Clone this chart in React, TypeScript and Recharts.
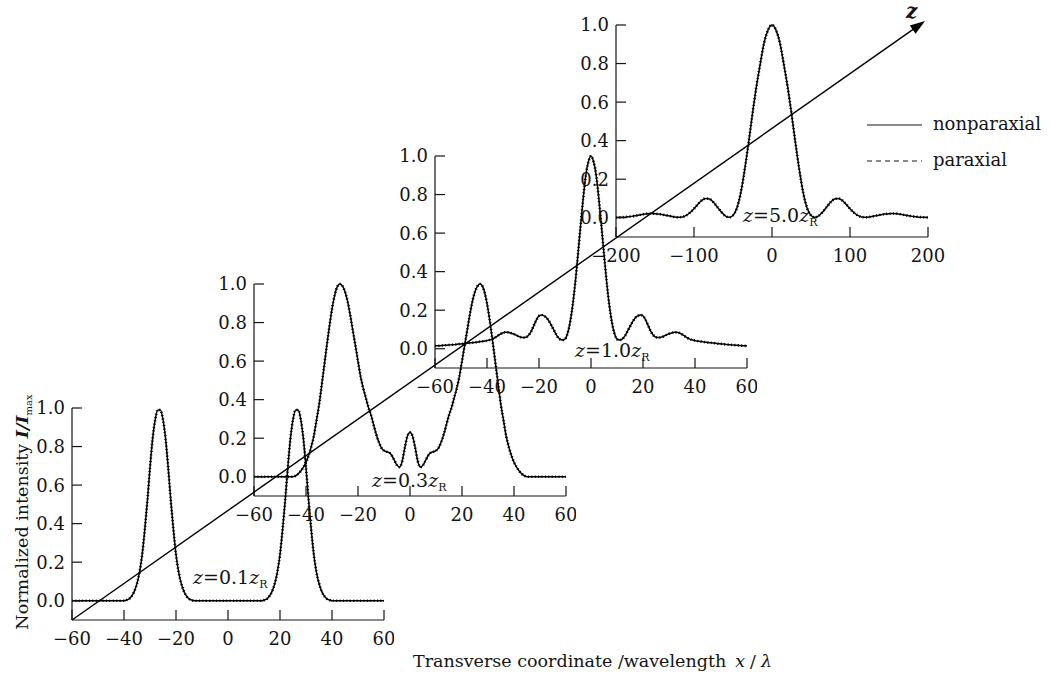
import { LineChart, Line, XAxis, YAxis, Legend } from 'recharts';

const FONT = '"DejaVu Serif", "Liberation Serif", serif';
const INK = '#141414';

// x grids (transverse coordinate / wavelength)
const GRID_60 = Array.from({ length: 121 }, (_, i) => i - 60);
const GRID_200 = Array.from({ length: 81 }, (_, i) => -200 + 5 * i);

const X_TICKS_60 = [-60, -40, -20, 0, 20, 40, 60];
const X_TICKS_200 = [-200, -100, 0, 100, 200];
const Y_TICKS = [0, 0.2, 0.4, 0.6, 0.8, 1.0];
const Z_LABELS = ['0.1', '0.3', '1.0', '5.0'];

// z = 0.1 zR
const I_01 = [
  0, 0, 0, 0, 0, 0, 0, 0, 0, 0, 0, 0, 0, 0, 0, 0, 0, 0, 0, 0, 0,
  0.004, 0.01, 0.025, 0.05, 0.09, 0.15, 0.24, 0.37, 0.52, 0.69, 0.84, 0.94, 0.99,
  0.99, 0.94, 0.84, 0.69, 0.52, 0.37, 0.24, 0.15, 0.09, 0.05, 0.025, 0.01, 0.004,
  0, 0, 0, 0, 0, 0, 0, 0, 0, 0, 0, 0, 0, 0, 0, 0, 0, 0, 0, 0, 0, 0, 0, 0, 0, 0, 0,
  0.004, 0.01, 0.025, 0.05, 0.09, 0.15, 0.24, 0.37, 0.52, 0.69, 0.84, 0.94, 0.99,
  0.99, 0.94, 0.84, 0.69, 0.52, 0.37, 0.24, 0.15, 0.09, 0.05, 0.025, 0.01, 0.004,
  0, 0, 0, 0, 0, 0, 0, 0, 0, 0, 0, 0, 0, 0, 0, 0, 0, 0, 0, 0, 0,
];

// z = 0.3 zR
const I_03 = [
  0, 0, 0, 0, 0, 0, 0, 0, 0, 0, 0, 0, 0, 0, 0, 0,
  0.005, 0.015, 0.03, 0.05, 0.075, 0.11, 0.155, 0.21, 0.29, 0.37, 0.47, 0.575, 0.68, 0.78, 0.87, 0.94, 0.985, 1.0,
  0.99, 0.96, 0.91, 0.84, 0.76, 0.68, 0.6, 0.52, 0.46, 0.41, 0.36, 0.32, 0.27, 0.22, 0.18, 0.15, 0.135, 0.13,
  0.125, 0.11, 0.085, 0.06, 0.05, 0.08, 0.15, 0.21, 0.23,
  0.21, 0.15, 0.08, 0.05, 0.06, 0.085, 0.11, 0.125, 0.13, 0.135, 0.15, 0.18, 0.22, 0.27,
  0.32, 0.36, 0.41, 0.46, 0.52, 0.6, 0.68, 0.76, 0.84, 0.91, 0.96, 0.99, 1.0,
  0.985, 0.94, 0.87, 0.78, 0.68, 0.575, 0.47, 0.37, 0.29, 0.21, 0.155, 0.11, 0.075, 0.05, 0.03, 0.015, 0.005,
  0, 0, 0, 0, 0, 0, 0, 0, 0, 0, 0, 0, 0, 0, 0, 0,
];

// z = 1.0 zR
const I_10 = [
  0.015, 0.015, 0.016, 0.017, 0.018, 0.019, 0.02, 0.021, 0.022, 0.024,
  0.025, 0.026, 0.028, 0.03, 0.031, 0.032, 0.034, 0.036, 0.038, 0.04,
  0.042, 0.045, 0.05, 0.057, 0.066, 0.075, 0.082, 0.085, 0.085, 0.082,
  0.078, 0.072, 0.065, 0.06, 0.058, 0.06, 0.07, 0.09, 0.12, 0.15,
  0.17, 0.175, 0.17, 0.16, 0.14, 0.115, 0.09, 0.065, 0.05, 0.045,
  0.05, 0.08, 0.14, 0.23, 0.35, 0.49, 0.64, 0.78, 0.9, 0.97,
  1.0,
  0.97, 0.9, 0.78, 0.64, 0.49, 0.35, 0.23, 0.14, 0.08, 0.05,
  0.045, 0.05, 0.065, 0.09, 0.115, 0.14, 0.16, 0.17, 0.175, 0.17,
  0.15, 0.12, 0.09, 0.07, 0.06, 0.058, 0.06, 0.065, 0.072, 0.078,
  0.082, 0.085, 0.085, 0.082, 0.075, 0.066, 0.057, 0.05, 0.045, 0.042,
  0.04, 0.038, 0.036, 0.034, 0.032, 0.031, 0.03, 0.028, 0.026, 0.025,
  0.024, 0.022, 0.021, 0.02, 0.019, 0.018, 0.017, 0.016, 0.015, 0.015,
];

// z = 5.0 zR
const I_50 = [
  0.001, 0.002, 0.003, 0.005, 0.007, 0.01, 0.014, 0.018, 0.021, 0.022,
  0.021, 0.019, 0.016, 0.012, 0.008, 0.004, 0.002, 0.004, 0.012, 0.027,
  0.047, 0.07, 0.09, 0.1, 0.097, 0.08, 0.055, 0.03, 0.01, 0.002,
  0.012, 0.05, 0.13, 0.25, 0.39, 0.54, 0.68, 0.8, 0.91, 0.975,
  1.0,
  0.975, 0.91, 0.8, 0.68, 0.54, 0.39, 0.25, 0.13, 0.05, 0.012,
  0.002, 0.01, 0.03, 0.055, 0.08, 0.097, 0.1, 0.09, 0.07, 0.047,
  0.027, 0.012, 0.004, 0.002, 0.004, 0.008, 0.012, 0.016, 0.019, 0.021,
  0.022, 0.021, 0.018, 0.014, 0.01, 0.007, 0.005, 0.003, 0.002, 0.001,
];

const toRows = (xs: number[], ys: number[]) =>
  xs.map((x, i) => ({ x, nonparaxial: ys[i], paraxial: ys[i] }));

const fmtX = (v: number) => (v < 0 ? `\u2212${Math.abs(v)}` : `${v}`);

const XTick = ({ x, y, payload }: any) => (
  <g>
    <line x1={x} x2={x} y1={y} y2={y - 10} stroke={INK} strokeWidth={1.2} />
    <text x={x} y={y + 25} textAnchor="middle" fontFamily={FONT} fontSize={18} fill={INK}>
      {fmtX(payload.value)}
    </text>
  </g>
);

const YTick = ({ x, y, payload }: any) => (
  <g>
    <line x1={x} x2={x + 10} y1={y} y2={y} stroke={INK} strokeWidth={1.2} />
    <text x={x - 7} y={y} dy="0.36em" textAnchor="end" fontFamily={FONT} fontSize={18} fill={INK}>
      {Number(payload.value).toFixed(1)}
    </text>
  </g>
);

const LegendBox = ({ payload }: any) => (
  <svg width={190} height={64} style={{ display: 'block' }}>
    {(payload || []).map((p: any, i: number) => (
      <g key={p.value}>
        <line
          x1={0}
          x2={55}
          y1={12 + i * 36}
          y2={12 + i * 36}
          stroke={INK}
          strokeWidth={1.2}
          strokeDasharray={i === 1 ? '5 4' : undefined}
        />
        <text x={66} y={17 + i * 36} fontFamily={FONT} fontSize={18} fill={INK}>
          {p.value}
        </text>
      </g>
    ))}
  </svg>
);

const PW = 312;
const PH = 212;

function Panel({ left, top, rows, domain, ticks, legend }: any) {
  const right = legend ? 1050 - left - PW : 10;
  return (
    <div style={{ position: 'absolute', left: left - 60, top: top - 10 }}>
      <LineChart
        width={60 + PW + right}
        height={10 + PH + 40}
        data={rows}
        margin={{ top: 10, right, bottom: 0, left: 0 }}>
        <XAxis
          type="number"
          dataKey="x"
          domain={domain}
          ticks={ticks}
          interval={0}
          height={40}
          axisLine={{ stroke: INK, strokeWidth: 1.2 }}
          tickLine={false}
          tickSize={0}
          tickMargin={0}
          tick={XTick}
        />
        <YAxis
          type="number"
          domain={[-0.1, 1]}
          ticks={Y_TICKS}
          interval={0}
          width={60}
          axisLine={{ stroke: INK, strokeWidth: 1.2 }}
          tickLine={false}
          tickSize={0}
          tickMargin={0}
          tick={YTick}
        />
        <Line
          type="monotone"
          dataKey="nonparaxial"
          name="nonparaxial"
          stroke="#000"
          strokeWidth={1.5}
          dot={false}
          isAnimationActive={false}
        />
        <Line
          type="monotone"
          dataKey="paraxial"
          name="paraxial"
          stroke="#000"
          strokeWidth={2.7}
          strokeDasharray="1 2.4"
          dot={false}
          isAnimationActive={false}
        />
        {legend && (
          <Legend
            layout="horizontal"
            verticalAlign="middle"
            align="center"
            content={LegendBox}
            wrapperStyle={{ position: 'absolute', left: 866.7 - (left - 60), top: 113 - (top - 10), width: 190 }}
          />
        )}
      </LineChart>
    </div>
  );
}

const PANELS = [
  { left: 72, top: 408, rows: toRows(GRID_60, I_01), domain: [-60, 60], ticks: X_TICKS_60, lx: 193, ly: 584 },
  { left: 253.5, top: 284, rows: toRows(GRID_60, I_03), domain: [-60, 60], ticks: X_TICKS_60, lx: 372, ly: 487 },
  { left: 434.5, top: 156, rows: toRows(GRID_60, I_10), domain: [-60, 60], ticks: X_TICKS_60, lx: 575, ly: 357 },
  { left: 616, top: 24.5, rows: toRows(GRID_200, I_50), domain: [-200, 200], ticks: X_TICKS_200, lx: 743, ly: 222 },
];

// z axis arrow
const A0 = { x: 72, y: 620 };
const A1 = { x: 925, y: 21 };
const arrowHead = () => {
  const dx = A1.x - A0.x;
  const dy = A1.y - A0.y;
  const len = Math.hypot(dx, dy);
  const ux = dx / len;
  const uy = dy / len;
  const bx = A1.x - 15 * ux;
  const by = A1.y - 15 * uy;
  return `${A1.x},${A1.y} ${bx - 5 * uy},${by + 5 * ux} ${bx + 5 * uy},${by - 5 * ux}`;
};

export default function App() {
  return (
    <div style={{ position: 'absolute', left: 0, top: 0, width: 1050, height: 674, background: '#fff' }}>
      {PANELS.map((p, i) => (
        <Panel key={i} {...p} legend={i === 3} />
      ))}
      <svg width={1050} height={674} style={{ position: 'absolute', left: 0, top: 0, pointerEvents: 'none' }}>
        <line x1={A0.x} y1={A0.y} x2={A1.x - 8 * 0.818} y2={A1.y + 8 * 0.575} stroke="#000" strokeWidth={1.4} />
        <polygon points={arrowHead()} fill="#000" />
        <text x={906} y={18} fontFamily={FONT} fontSize={20} fontStyle="italic" fontWeight="bold" fill={INK}>
          z
        </text>
        {PANELS.map((p, i) => (
          <text key={i} x={p.lx} y={p.ly} fontFamily={FONT} fontSize={19} fill={INK}>
            <tspan fontStyle="italic">z</tspan>={Z_LABELS[i]}
            <tspan fontStyle="italic">z</tspan>
            <tspan fontSize={11} dy={4} fill={INK}>R</tspan>
          </text>
        ))}
        <text x={413} y={667} fontFamily={FONT} fontSize={17.5} fill={INK}>
          Transverse coordinate /wavelength
          <tspan dx={9} fontStyle="italic">x</tspan>
          <tspan dx={5}>/</tspan>
          <tspan dx={5} fontStyle="italic">λ</tspan>
        </text>
        <text
          transform="translate(28,512) rotate(-90)"
          textAnchor="middle"
          fontFamily={FONT}
          fontSize={17.5}
          fill={INK}>
          Normalized intensity{' '}
          <tspan fontStyle="italic" fontWeight="bold">I/I</tspan>
          <tspan fontSize={10} dy={4}>max</tspan>
        </text>
      </svg>
    </div>
  );
}
